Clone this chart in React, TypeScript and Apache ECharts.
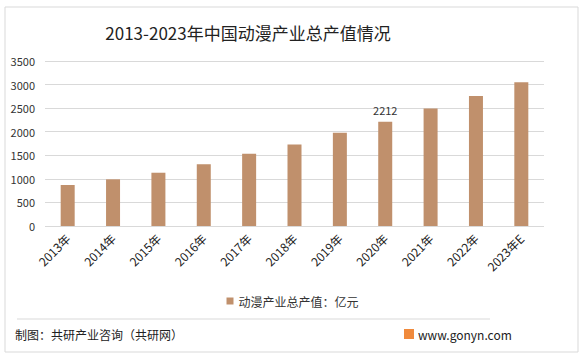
import React, { useEffect, useRef } from "react";
import * as echarts from "echarts";

const categories = ["2013年", "2014年", "2015年", "2016年", "2017年", "2018年", "2019年", "2020年", "2021年", "2022年", "2023年E"];
const values = [870, 990, 1130, 1310, 1530, 1730, 1980, 2212, 2490, 2760, 3050];
const labeledIndex = 7;
const seriesName = "动漫产业总产值：亿元";
const title = "2013-2023年中国动漫产业总产值情况";
const footerLeft = "制图：共研产业咨询（共研网）";
const footerRight = "www.gonyn.com";

const FONT = "'Noto Sans CJK SC', 'Noto Sans', sans-serif";

export default function App() {
  const ref = useRef<HTMLDivElement>(null);
  useEffect(() => {
    if (!ref.current) return;
    const chart = echarts.init(ref.current, null, { renderer: "svg" });
    chart.setOption({
      animation: false,
      backgroundColor: "#fff",
      textStyle: { fontFamily: FONT },
      title: {
        text: title,
        left: 243,
        textAlign: "center",
        top: 19,
        textStyle: { fontSize: 17, fontWeight: "normal", color: "#222", fontFamily: FONT },
      },
      grid: { left: 45, right: 41, top: 61, bottom: 130 },
      legend: {
        data: [seriesName],
        left: "center",
        top: 290,
        itemWidth: 7,
        itemHeight: 7,
        icon: "rect",
        itemGap: 4,
        textStyle: { fontSize: 12, color: "#333", fontFamily: FONT },
      },
      xAxis: {
        type: "category",
        data: categories,
        axisLine: { show: false },
        axisTick: { show: false },
        axisLabel: { rotate: 45, fontSize: 12, color: "#222", margin: 10, interval: 0, fontFamily: FONT },
      },
      yAxis: {
        type: "value",
        min: 0,
        max: 3500,
        interval: 500,
        axisLine: { show: false },
        axisTick: { show: false },
        axisLabel: { fontSize: 11, color: "#333", margin: 10, fontFamily: FONT, formatter: (v: number) => String(v) },
        splitLine: { lineStyle: { color: "#d9d9d9", width: 1 } },
      },
      series: [
        {
          name: seriesName,
          type: "bar",
          data: values.map((v, i) =>
            i === labeledIndex
              ? { value: v, label: { show: true, position: "top", fontSize: 11, color: "#333", distance: 6 } }
              : v
          ),
          barWidth: 14,
          itemStyle: { color: "#C0906C" },
        },
      ],
      graphic: [
        {
          type: "rect",
          shape: { x: 5, y: 7, width: 573, height: 345 },
          style: { fill: "none", stroke: "#d9d9d9", lineWidth: 1 },
          silent: true,
        },
        {
          type: "line",
          shape: { x1: 17, y1: 319, x2: 490, y2: 319 },
          style: { stroke: "#d9d9d9", lineWidth: 1 },
        },
        {
          type: "text",
          left: 15,
          top: 328,
          style: { text: footerLeft, fontSize: 12, fill: "#222", fontFamily: FONT },
        },
        {
          type: "rect",
          shape: { x: 404, y: 329, width: 10, height: 10 },
          style: { fill: "#F08A3C" },
        },
        {
          type: "text",
          left: 418,
          top: 328,
          style: { text: footerRight, fontSize: 12, fill: "#222", fontFamily: FONT },
        },
      ],
    });
    return () => chart.dispose();
  }, []);
  return <div ref={ref} style={{ position: "fixed", left: 0, top: 0, width: 585, height: 356 }} />;
}
